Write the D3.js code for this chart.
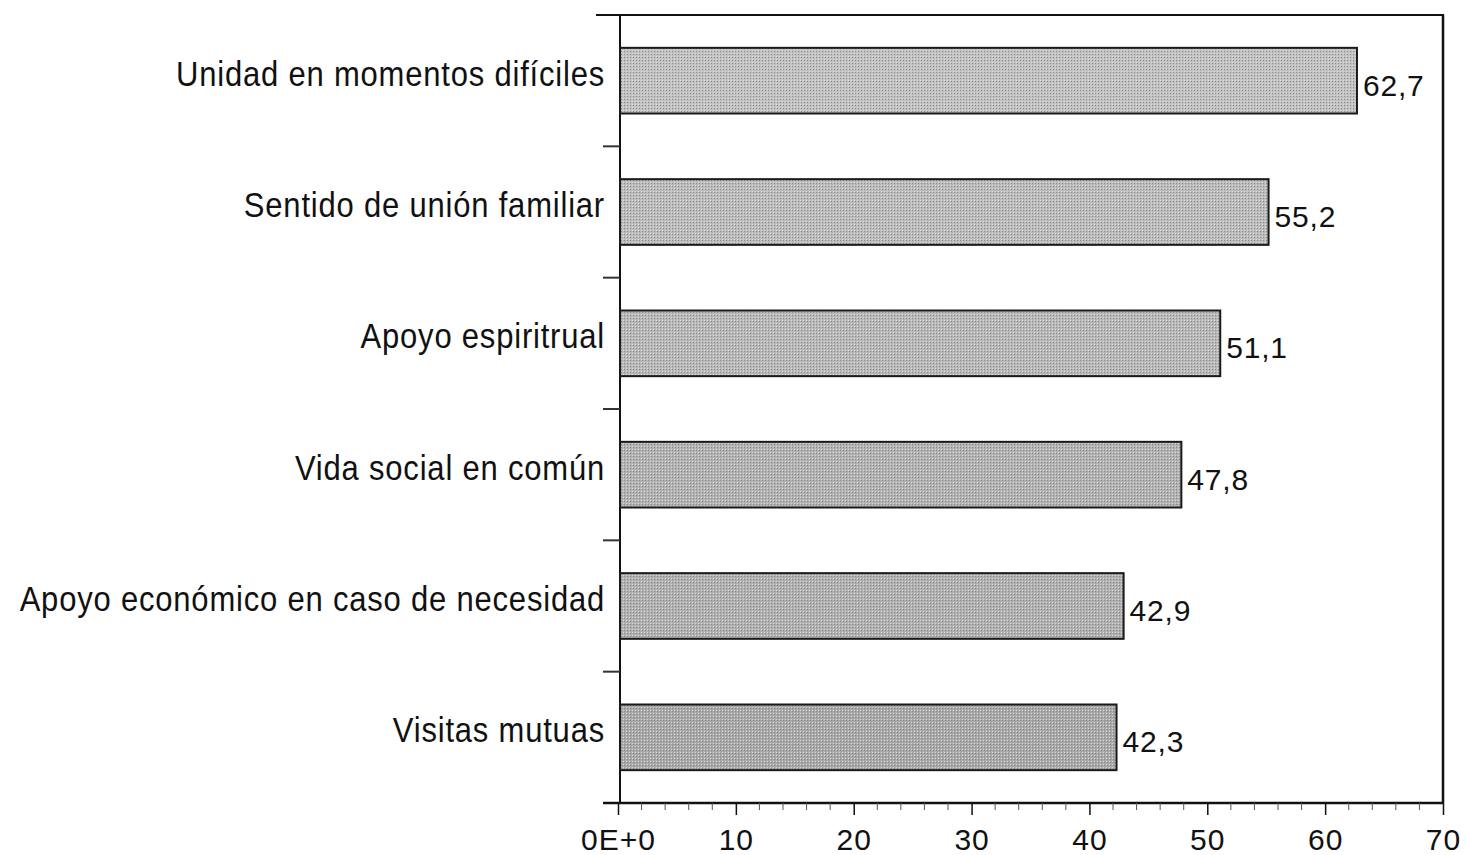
<!DOCTYPE html>
<html><head><meta charset="utf-8">
<script src="https://cdn.jsdelivr.net/npm/d3@7"></script>
<style>body{margin:0;background:#fff}svg{display:block}text{font-family:"Liberation Sans",Arial,sans-serif;fill:#111}</style>
</head><body><svg id="c" width="1466" height="855"></svg>
<script>
const categories = ["Unidad en momentos difíciles","Sentido de unión familiar","Apoyo espiritrual","Vida social en común","Apoyo económico en caso de necesidad","Visitas mutuas"];
const values = [62.7,55.2,51.1,47.8,42.9,42.3];
const valueLabels = ["62,7","55,2","51,1","47,8","42,9","42,3"];
const tickValues = [0,10,20,30,40,50,60,70];
const tickLabels = ["0E+0","10","20","30","40","50","60","70"];

const svg = d3.select("#c");
const frame={left:620,top:15,right:1443,bottom:803};
const x = d3.scaleLinear().domain([0,70]).range([618,1443]);
const y = d3.scaleBand().domain(categories).range([frame.top,frame.bottom]).paddingInner(0.5).paddingOuter(0.25);

// patterns
const defs = svg.append("defs");
const fills = ["#c2c2c2","#bcbcbc","#b8b8b8","#b2b2b2","#b0b0b0","#a8a8a8"];
fills.forEach((f,i)=>{
  const p = defs.append("pattern").attr("id","p"+i).attr("width",3).attr("height",3).attr("patternUnits","userSpaceOnUse");
  p.append("rect").attr("width",3).attr("height",3).attr("fill",f);
  p.append("rect").attr("x",0).attr("y",0).attr("width",1).attr("height",1).attr("fill","#888");
  p.append("rect").attr("x",2).attr("y",2).attr("width",1).attr("height",1).attr("fill","#dcdcdc");
});

// frame
svg.append("line").attr("x1",596).attr("x2",frame.right+1).attr("y1",frame.top).attr("y2",frame.top).attr("stroke","#111").attr("stroke-width",2);
svg.append("line").attr("x1",frame.right).attr("x2",frame.right).attr("y1",frame.top).attr("y2",frame.bottom).attr("stroke","#111").attr("stroke-width",2.5);
svg.append("line").attr("x1",frame.left).attr("x2",frame.left).attr("y1",frame.top).attr("y2",frame.bottom).attr("stroke","#111").attr("stroke-width",2);

// y category separator ticks
const step=(frame.bottom-frame.top)/categories.length;
const sep = d3.range(1,categories.length).map(i=>frame.top+i*step);
svg.selectAll(".ysep").data(sep).join("line").attr("x1",603).attr("x2",frame.left).attr("y1",d=>d).attr("y2",d=>d).attr("stroke","#333").attr("stroke-width",2);

// bars
svg.selectAll(".bar").data(categories).join("rect")
  .attr("x",frame.left).attr("y",d=>y(d)).attr("width",(d,i)=>x(values[i])-frame.left).attr("height",y.bandwidth())
  .attr("fill",(d,i)=>`url(#p${i})`).attr("stroke","#1a1a1a").attr("stroke-width",2);

// value labels
svg.selectAll(".vl").data(categories).join("text")
  .attr("x",(d,i)=>x(values[i])+6).attr("y",d=>y(d)+y.bandwidth()/2+15)
  .attr("font-size",30).attr("letter-spacing","0.8px").text((d,i)=>valueLabels[i]);

// category labels
svg.selectAll(".cl").data(categories).join("text")
  .attr("transform",d=>`translate(605,${y(d)+y.bandwidth()/2+5}) scale(1,1.12)`).attr("text-anchor","end")
  .attr("font-size",31).attr("letter-spacing","0.8px").text(d=>d);

// x axis
const gx = svg.append("g").attr("transform",`translate(0,${frame.bottom})`);
gx.append("line").attr("x1",603).attr("x2",frame.right+1).attr("stroke","#111").attr("stroke-width",2.5);
const ax = d3.axisBottom(x).tickValues(tickValues).tickSize(12).tickFormat((d,i)=>tickLabels[i]);
gx.append("g").call(ax).call(a=>{
  a.select(".domain").remove();
  a.selectAll("line").attr("stroke","#111").attr("stroke-width",1.5);
  a.selectAll("text").attr("font-size",30).attr("y",0).attr("dy","47px").attr("letter-spacing","1px").attr("fill","#111").style("font-family","Liberation Sans, Arial, sans-serif");
});
const minor = d3.range(0,70.01,2).filter(v=>v%10!==0);
gx.selectAll(".mt").data(minor).join("line").attr("x1",d=>x(d)).attr("x2",d=>x(d)).attr("y1",0).attr("y2",7).attr("stroke","#555").attr("stroke-width",1);
</script></body></html>
